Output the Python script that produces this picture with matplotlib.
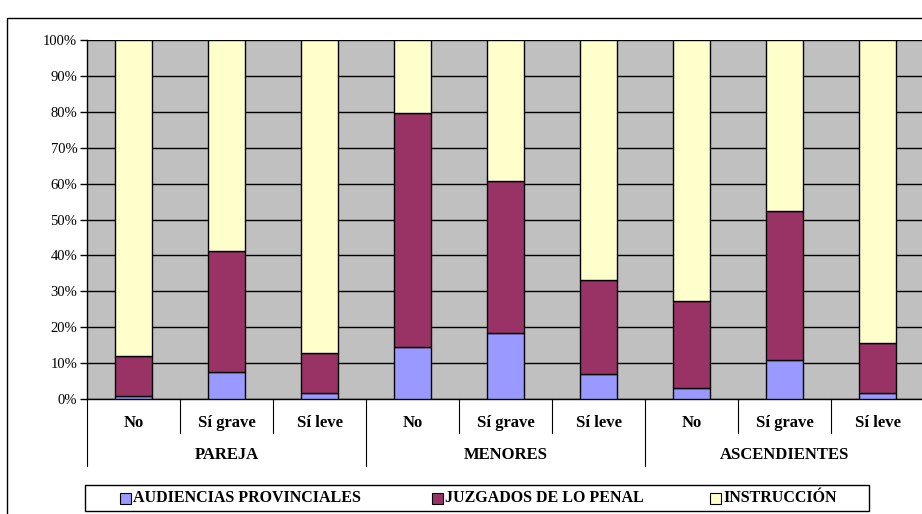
import matplotlib.pyplot as plt
import matplotlib.patches as mpatches
from matplotlib.ticker import PercentFormatter
import numpy as np

plt.rcParams['font.family'] = ['Liberation Serif', 'DejaVu Serif']

# Data (percent shares)
groups = ['PAREJA', 'MENORES', 'ASCENDIENTES']
subcats = ['No', 'Sí grave', 'Sí leve']
audiencias = [0.8, 7.6, 1.7, 14.6, 18.3, 6.9, 3.1, 10.8, 1.8]
juzgados = [11.1, 33.5, 11.0, 65.1, 42.5, 26.2, 24.1, 41.7, 13.8]
instruccion = [88.1, 58.9, 87.3, 20.3, 39.2, 66.9, 72.8, 47.5, 84.4]
series_names = ['AUDIENCIAS PROVINCIALES', 'JUZGADOS DE LO PENAL', 'INSTRUCCIÓN']
colors = ['#9999FF', '#993366', '#FFFFCC']

W, H = 922, 514
fig = plt.figure(figsize=(W / 100, H / 100), dpi=100)
ax = fig.add_axes([87 / W, 1 - 399 / H, 837 / W, 359 / H])
ax.set_facecolor('#C0C0C0')

x = np.arange(len(audiencias))
data = np.array([audiencias, juzgados, instruccion])
totals = data.sum(axis=0)
shares = data / totals
bottom = np.zeros(len(x))
for vals, c in zip(shares, colors):
    ax.bar(x, vals, 0.4, bottom=bottom, color=c, edgecolor='black', linewidth=1, zorder=3)
    bottom += vals

ax.set_xlim(-0.5, len(x) - 0.5)
ax.set_ylim(0, 1)
ax.set_yticks(np.arange(0, 1.01, 0.1))
ax.yaxis.set_major_formatter(PercentFormatter(1, decimals=0))
ax.grid(axis='y', color='black', linewidth=1, zorder=1)
ax.set_axisbelow(True)
ax.tick_params(axis='y', length=5, width=1, color='black', labelsize=10.5, pad=2)
ax.set_xticks([])
for s in ['top', 'right']:
    ax.spines[s].set_visible(False)
ax.spines['left'].set_linewidth(1)
ax.spines['bottom'].set_linewidth(1)

# category labels and separators
labels = subcats * len(groups)
for i, lab in enumerate(labels):
    ax.text(i, -0.067, lab, ha='center', va='center', fontsize=12, fontweight='bold',
            transform=ax.get_xaxis_transform())
for i in range(len(x) + 1):
    low = -0.187 if i % 3 == 0 else -0.095
    ax.plot([i - 0.5, i - 0.5], [0, low], color='black', linewidth=0.8,
            transform=ax.get_xaxis_transform(), clip_on=False)
for g, name in enumerate(groups):
    ax.text(g * 3 + 1, -0.156, name, ha='center', va='center', fontsize=12, fontweight='bold',
            transform=ax.get_xaxis_transform())

# outer chart border
fig.patches.append(mpatches.Rectangle((7 / W, -0.1), 1.1, 1 - 18 / H + 0.1, transform=fig.transFigure,
                                      fill=False, edgecolor='black', linewidth=1))

# legend box
fig.patches.append(mpatches.Rectangle((85 / W, 1 - 511 / H), (869 - 85) / W, 26 / H,
                                      transform=fig.transFigure, fill=False,
                                      edgecolor='black', linewidth=1))
leg_x = [120, 432, 710]
ly = 1 - 498 / H
for px, name, c in zip(leg_x, series_names, colors):
    fig.patches.append(mpatches.Rectangle((px / W, ly - 5.5 / H), 11 / W, 11 / H,
                                          transform=fig.transFigure, facecolor=c,
                                          edgecolor='black', linewidth=0.8))
    fig.text((px + 13) / W, ly, name, ha='left', va='center', fontsize=11.5, fontweight='bold')

fig.savefig('out.png', dpi=100)
